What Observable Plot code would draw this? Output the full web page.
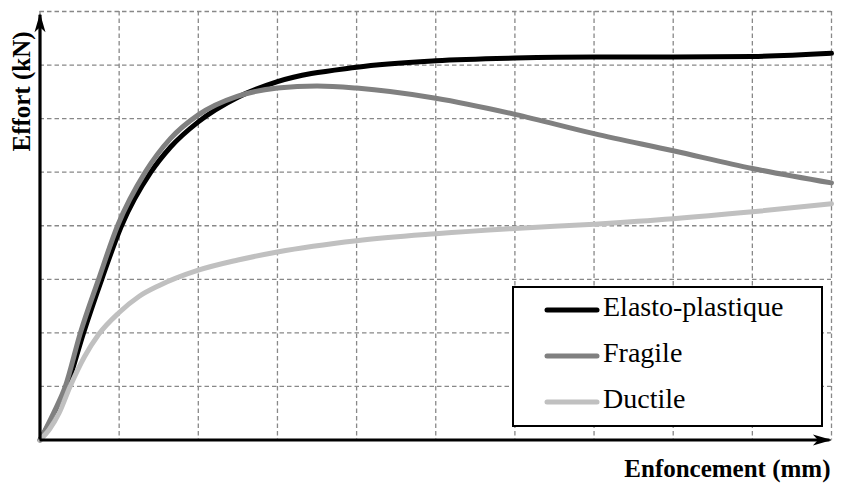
<!DOCTYPE html>
<html><head><meta charset="utf-8">
<script src="https://cdn.jsdelivr.net/npm/d3@7"></script>
<script src="https://cdn.jsdelivr.net/npm/@observablehq/plot@0.6"></script>
<style>
body{margin:0;background:#fff;}
#wrap{width:843px;height:484px;}
svg text.legend-label{font-family:"Liberation Serif", serif !important;}
</style>
</head><body><div id="wrap"></div>
<script>
// Series names and colours
const seriesNames = ["Elasto-plastique", "Fragile", "Ductile"];
const seriesColors = ["#000000", "#808080", "#c0c0c0"];

// Elasto-plastique
const elastoX = [0, 0.18, 0.34, 0.55, 0.78, 1.03, 1.4, 1.65, 2, 2.5, 3, 4, 5, 6, 7, 8, 9, 10];
const elastoY = [0, 0.48, 1, 2, 3, 4, 5, 5.47, 5.94, 6.4, 6.69, 6.96, 7.08, 7.13, 7.15, 7.15, 7.16, 7.22];
// Fragile
const fragileX = [0, 0.17, 0.32, 0.51, 0.74, 0.98, 1.33, 1.65, 2, 2.5, 3, 3.5, 4, 5, 6, 7, 8, 9, 10];
const fragileY = [0, 0.5, 1, 2, 3, 4, 5, 5.63, 6.07, 6.42, 6.57, 6.61, 6.57, 6.38, 6.08, 5.72, 5.4, 5.07, 4.8];
// Ductile
const ductileX = [0, 0.12, 0.24, 0.38, 0.56, 0.74, 1, 1.25, 1.5, 2, 2.5, 3, 4, 5, 6, 7, 8, 9, 10];
const ductileY = [0, 0.2, 0.5, 1, 1.55, 1.97, 2.38, 2.68, 2.88, 3.17, 3.36, 3.51, 3.72, 3.85, 3.95, 4.03, 4.13, 4.26, 4.41];

// Grid ticks (no labels shown)
const xGrid = [0, 1, 2, 3, 4, 5, 6, 7, 8, 9, 10];
const yGrid = [0, 1, 2, 3, 4, 5, 6, 7, 8];
// Axis arrow tips
const xArrowTip = 9.98;
const yArrowTip = 7.93;

const xLabel = "Enfoncement (mm)";
const yLabel = "Effort (kN)";

const seriesX = [elastoX, fragileX, ductileX];
const seriesY = [elastoY, fragileY, ductileY];
const data = seriesNames.flatMap((name, i) =>
  seriesX[i].map((x, j) => ({series: name, x, y: seriesY[i][j]})));

const arrowRight = {draw(ctx) {
  ctx.moveTo(2, 0); ctx.lineTo(-17, -5.5); ctx.lineTo(-12, 0); ctx.lineTo(-17, 5.5); ctx.closePath();
}};
const arrowUp = {draw(ctx) {
  ctx.moveTo(0, -2); ctx.lineTo(-5.5, 17); ctx.lineTo(0, 12); ctx.lineTo(5.5, 17); ctx.closePath();
}};

const gridStyle = {stroke: "#888", strokeOpacity: 1, strokeWidth: 1.3, strokeDasharray: "4.5,3"};
const labelFont = {fontFamily: "'Liberation Serif', serif", fontWeight: "bold", fontSize: 25, fill: "#000"};

const plot = Plot.plot({
  width: 843, height: 484,
  marginLeft: 39.5, marginRight: 12, marginTop: 11, marginBottom: 44.5,
  x: {domain: [0, 10], axis: null},
  y: {domain: [0, 8], axis: null},
  color: {domain: seriesNames, range: seriesColors},
  style: {background: "#fff", overflow: "visible"},
  marks: [
    Plot.gridX(xGrid, gridStyle),
    Plot.gridY(yGrid, gridStyle),
    Plot.line(data, {x: "x", y: "y", z: "series", stroke: "series", strokeWidth: 5, curve: "monotone-x"}),
    Plot.ruleY([0], {x1: 0, x2: xArrowTip, stroke: "#000", strokeWidth: 3.2, strokeLinecap: "butt"}),
    Plot.ruleX([0], {y1: 0, y2: yArrowTip, stroke: "#000", strokeWidth: 3.2, strokeLinecap: "butt"}),
    Plot.dot([0], {x: xArrowTip, y: 0, symbol: arrowRight, fill: "#000", stroke: "none"}),
    Plot.dot([0], {x: 0, y: yArrowTip, symbol: arrowUp, fill: "#000", stroke: "none"}),
    Plot.text([xLabel], {text: d => d, frameAnchor: "bottom-right", textAnchor: "end", lineAnchor: "middle", dx: -1, dy: 29, ...labelFont}),
    Plot.text([yLabel], {text: d => d, frameAnchor: "top-left", textAnchor: "middle", lineAnchor: "middle", rotate: -90, dx: -18, dy: 80, ...labelFont})
  ]
});
document.getElementById("wrap").appendChild(plot);

// Legend (drawn inside the plot's SVG)
const svg = d3.select(plot);
const lg = svg.append("g");
lg.append("rect").attr("x", 513).attr("y", 287).attr("width", 309).attr("height", 139)
  .attr("fill", "#fff").attr("stroke", "#000").attr("stroke-width", 2);
seriesNames.forEach((name, i) => {
  const cy = 310 + i * 46;
  lg.append("line").attr("x1", 547).attr("x2", 597).attr("y1", cy).attr("y2", cy)
    .attr("stroke", seriesColors[i]).attr("stroke-width", 5).attr("stroke-linecap", "round");
  lg.append("text").attr("class", "legend-label").attr("x", 603).attr("y", cy + 5.5).text(name)
    .attr("text-anchor", "start").attr("font-family", "Liberation Serif, serif")
    .attr("font-size", 28).attr("fill", "#000");
});
</script>
</body></html>
